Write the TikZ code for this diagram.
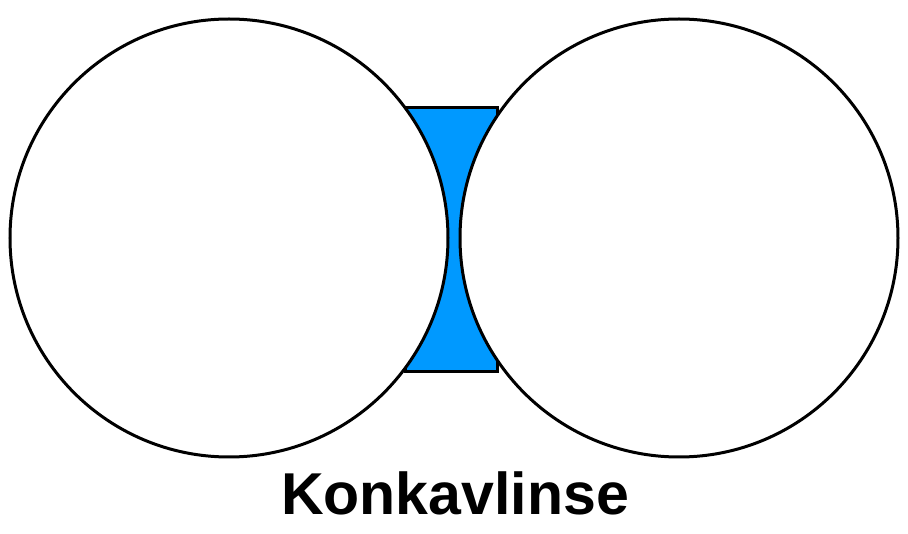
\documentclass[tikz,border=0pt]{standalone}
\usepackage{fontspec}
\setmainfont{Liberation Sans}
\usepackage{tikz}
\definecolor{linsenblau}{RGB}{0,153,255}

\begin{document}
\begin{tikzpicture}[x=0.75pt,y=0.75pt,yscale=-1,xscale=1]
\path[use as bounding box] (0,0) rectangle (908,534);

%Lens body (rectangle, covered at the sides by the circles)
\draw [fill=linsenblau, line width=2.25pt] (405,108) -- (497,108) -- (497,372) -- (405,372) -- cycle ;
%Circle left
\draw [fill=white, line width=2.25pt] (229,238) circle (219) ;
%Circle right
\draw [fill=white, line width=2.25pt] (679,238) circle (219) ;

% Text Node
\node (titel) at (455,515) [anchor=base][inner sep=0pt] {\fontsize{44.3}{50}\selectfont\bfseries Konkavlinse};
\end{tikzpicture}
\end{document}
